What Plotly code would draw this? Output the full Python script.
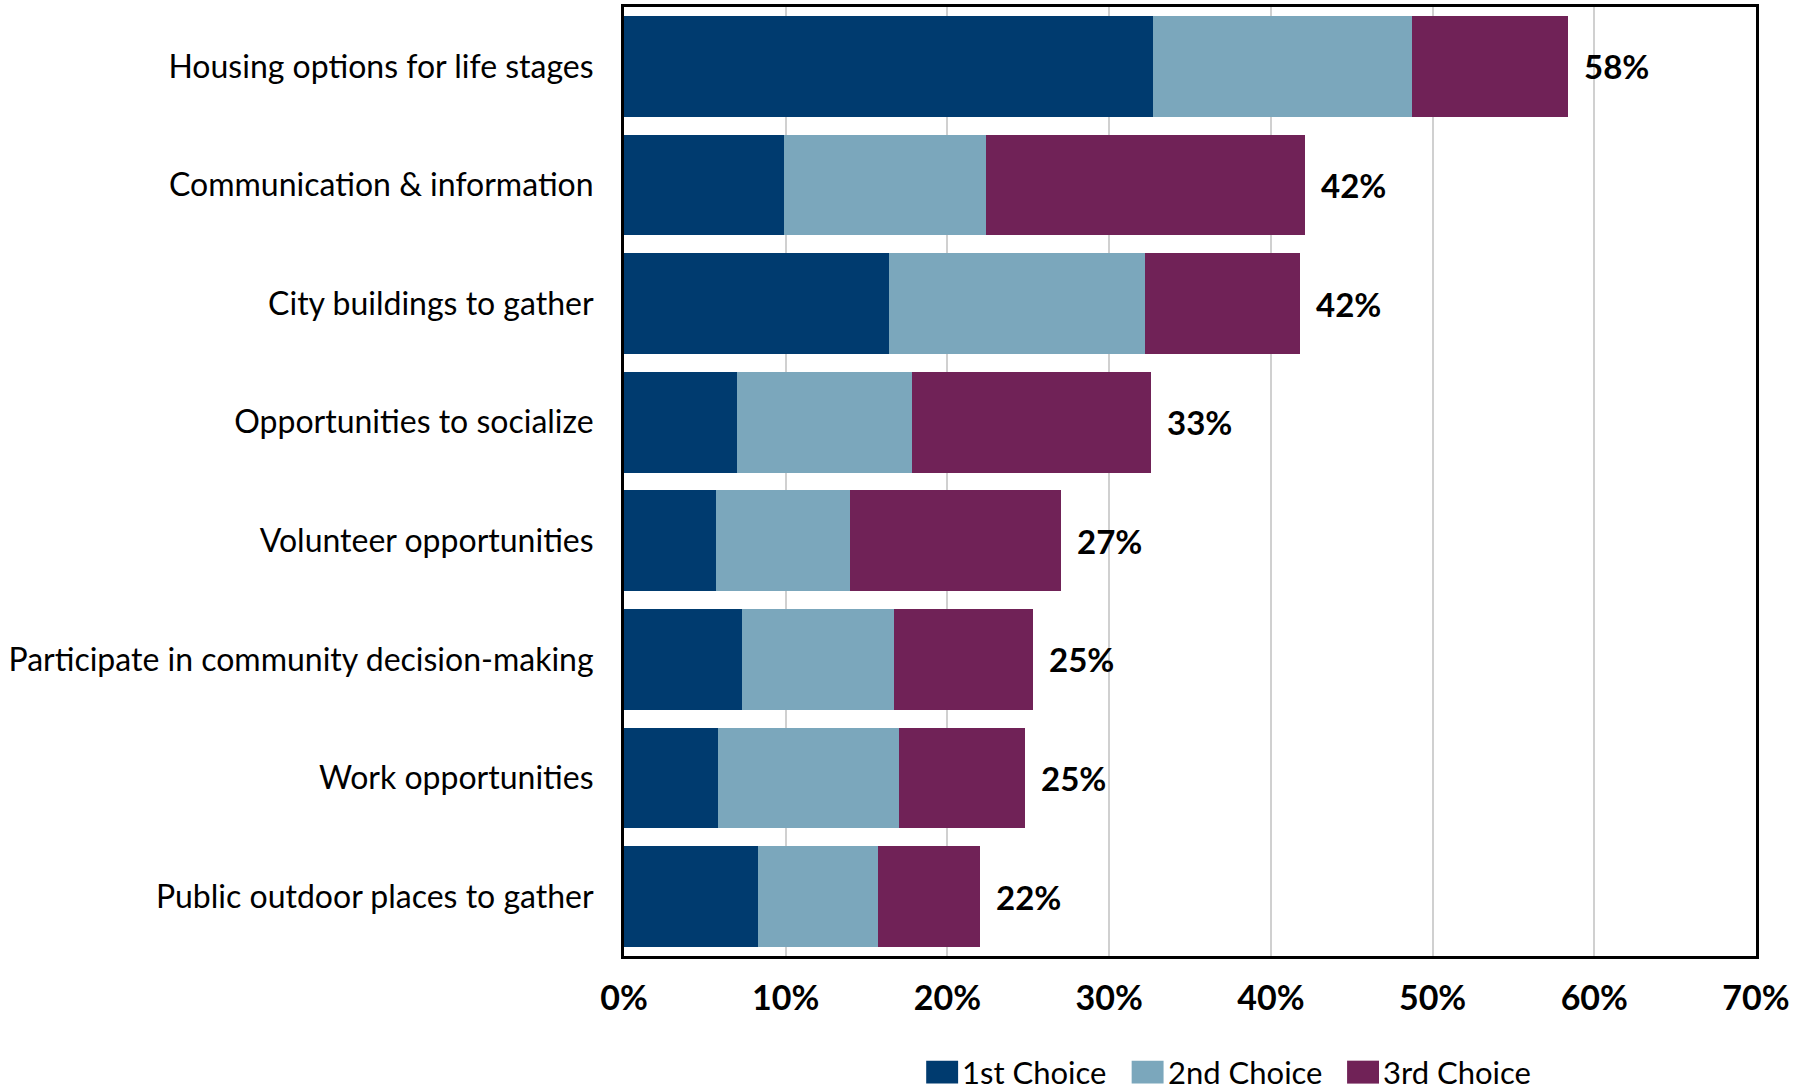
import plotly.graph_objects as go

# Survey priorities: share of respondents ranking each item 1st, 2nd or 3rd (%)
categories = [
    "Housing options for life stages",
    "Communication & information",
    "City buildings to gather",
    "Opportunities to socialize",
    "Volunteer opportunities",
    "Participate in community decision-making",
    "Work opportunities",
    "Public outdoor places to gather",
]
first_choice = [32.7, 9.9, 16.4, 7.0, 5.7, 7.3, 5.8, 8.3]
second_choice = [16.0, 12.5, 15.8, 10.8, 8.3, 9.4, 11.2, 7.4]
third_choice = [9.7, 19.7, 9.6, 14.8, 13.0, 8.6, 7.8, 6.3]

series_names = ["1st Choice", "2nd Choice", "3rd Choice"]
series_colors = ["#003B6F", "#7BA7BC", "#702257"]
x_ticks = [0, 10, 20, 30, 40, 50, 60, 70]

FONT = "Lato"
W, H = 1794, 1092
M_L, M_R, M_T, M_B = 624, 35, 4, 136
PLOT_W = W - M_L - M_R
PLOT_H = H - M_T - M_B

fig = go.Figure()
for name, vals, color in zip(series_names, [first_choice, second_choice, third_choice], series_colors):
    fig.add_trace(go.Bar(
        y=categories, x=vals, name=name, orientation="h",
        marker=dict(color=color, line=dict(width=0)),
        hoverinfo="x+y+name", showlegend=False,
    ))

# Total share printed just past the end of each stacked bar
totals = [a + b + c for a, b, c in zip(first_choice, second_choice, third_choice)]
for cat, tot in zip(categories, totals):
    fig.add_annotation(
        x=tot, y=cat, xref="x", yref="y",
        text=f"<b>{int(tot + 0.5)}%</b>", showarrow=False,
        xanchor="left", yanchor="middle", xshift=14,
        font=dict(family=FONT, size=33, color="#000000"),
    )

# Legend row below the axis: colour swatch followed by the series name
def px_x(px):
    return (px - M_L) / PLOT_W

def px_y(py):
    return (H - M_B - py) / PLOT_H

legend_swatch_left = [927, 1133, 1349]
legend_cy = 1072
for name, color, left in zip(series_names, series_colors, legend_swatch_left):
    fig.add_shape(
        type="rect", xref="paper", yref="paper",
        x0=px_x(left), x1=px_x(left + 32),
        y0=px_y(legend_cy - 11), y1=px_y(legend_cy + 12),
        fillcolor=color, line=dict(width=0),
    )
    fig.add_annotation(
        x=px_x(left + 35), y=px_y(legend_cy), xref="paper", yref="paper",
        text=name, showarrow=False, xanchor="left", yanchor="middle",
        borderpad=0, font=dict(family=FONT, size=31, color="#000000"),
    )

fig.update_layout(
    barmode="stack",
    bargap=0.15,
    width=W, height=H,
    margin=dict(l=M_L, r=M_R, t=M_T, b=M_B),
    paper_bgcolor="white", plot_bgcolor="white",
    font=dict(family=FONT, color="#000000"),
    showlegend=False,
)

fig.update_xaxes(
    range=[0, 70], tickvals=x_ticks,
    ticktext=[f"<b>{v}%</b>" for v in x_ticks],
    tickfont=dict(family=FONT, size=34, color="#000000"),
    showgrid=True, gridcolor="#D0D0D0", gridwidth=1.5,
    showline=True, linecolor="#000000", linewidth=3, mirror=True,
    ticks="", ticklabelstandoff=10, zeroline=False, fixedrange=True,
)
fig.update_yaxes(
    categoryorder="array", categoryarray=categories, autorange="reversed",
    tickfont=dict(family=FONT, size=32, color="#000000"),
    showline=True, linecolor="#000000", linewidth=3, mirror=True,
    ticks="", ticklabelstandoff=21, showgrid=False, fixedrange=True,
)

fig.write_html("out.html")
